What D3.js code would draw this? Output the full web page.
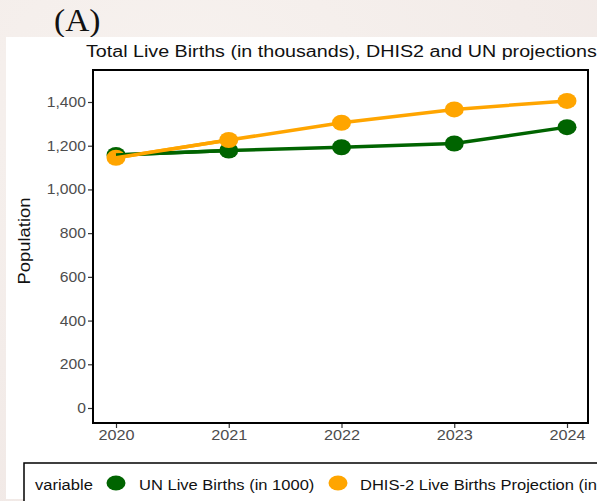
<!DOCTYPE html>
<html>
<head>
<meta charset="utf-8">
<script src="https://cdn.jsdelivr.net/npm/d3@7"></script>
<style>
  body { margin: 0; background: #f4eeeb; overflow: hidden; }
  svg { display: block; }
</style>
</head>
<body>
<div id="chart"></div>
<script>
var years = [2020, 2021, 2022, 2023, 2024];
var unBirths = [1158, 1178, 1193, 1210, 1285];
var dhisBirths = [1145, 1226, 1305, 1366, 1405];
var yTicks = [0, 200, 400, 600, 800, 1000, 1200, 1400];
var seriesNames = ["UN Live Births (in 1000)", "DHIS-2 Live Births Projection (in 1000)"];
var seriesColors = ["#006400", "#ffa500"];

var W = 597, H = 501;
var frame = { left: 93, right: 588, top: 70, bottom: 423 };
var FONT = "Liberation Sans, Arial, sans-serif";

var svg = d3.select("#chart").append("svg")
    .attr("width", W)
    .attr("height", H);

// the source picture is stretched sideways, so widen text to match
function stretch(sel, k) {
    sel.each(function() {
        var len = this.getComputedTextLength();
        d3.select(this).attr("textLength", len * k).attr("lengthAdjust", "spacingAndGlyphs");
    });
}

var defs = svg.append("defs");
var grad = defs.append("radialGradient").attr("id", "bg").attr("cx", "30%").attr("cy", "20%").attr("r", "90%");
grad.append("stop").attr("offset", "0%").attr("stop-color", "#f7f2ef");
grad.append("stop").attr("offset", "100%").attr("stop-color", "#f1e9e6");
svg.append("rect").attr("width", W).attr("height", H).attr("fill", "url(#bg)");

svg.append("text")
    .attr("x", 54).attr("y", 31)
    .attr("font-family", "Liberation Serif, Times New Roman, serif")
    .attr("font-size", 31)
    .attr("fill", "#111")
    .text("(A)")
    .call(stretch, 1.08);

// white panel
svg.append("rect")
    .attr("x", 6).attr("y", 37)
    .attr("width", W - 6).attr("height", 462)
    .attr("fill", "#fff");

var x = d3.scaleLinear().domain([2020, 2024]).range([116, 567]);
var y = d3.scaleLinear().domain([0, 1400]).range([408, 102]);

svg.append("text")
    .attr("x", 86).attr("y", 57)
    .attr("font-family", FONT)
    .attr("font-size", 16)
    .attr("fill", "#111")
    .text("Total Live Births (in thousands), DHIS2 and UN projections")
    .call(stretch, 1.23);

// y axis
var yAxis = svg.append("g")
    .attr("transform", "translate(" + frame.left + ",0)")
    .call(d3.axisLeft(y).tickValues(yTicks).tickSize(5).tickPadding(2).tickFormat(d3.format(",")));
yAxis.select(".domain").remove();
yAxis.selectAll("line").attr("stroke", "#333").attr("stroke-width", 1.2);
yAxis.selectAll("text")
    .attr("fill", "#4d4d4d")
    .attr("font-size", 14)
    .attr("font-family", FONT)
    .call(stretch, 1.12);

// x axis
var xAxis = svg.append("g")
    .attr("transform", "translate(0," + frame.bottom + ")")
    .call(d3.axisBottom(x).tickValues(years).tickSize(5).tickPadding(2).tickFormat(d3.format("d")));
xAxis.select(".domain").remove();
xAxis.selectAll("line").attr("stroke", "#333").attr("stroke-width", 1.2);
xAxis.selectAll("text")
    .attr("fill", "#4d4d4d")
    .attr("font-size", 14)
    .attr("font-family", FONT)
    .call(stretch, 1.16);

svg.append("text")
    .attr("transform", "translate(30,241) rotate(-90)")
    .attr("text-anchor", "middle")
    .attr("font-family", FONT)
    .attr("font-size", 16)
    .attr("fill", "#111")
    .text("Population")
    .call(stretch, 1.15);

// series
var series = [unBirths, dhisBirths];
var line = d3.line()
    .x(function(d, i) { return x(years[i]); })
    .y(function(d) { return y(d); });

series.forEach(function(vals, k) {
    svg.append("path")
        .datum(vals)
        .attr("fill", "none")
        .attr("stroke", seriesColors[k])
        .attr("stroke-width", 3.5)
        .attr("d", line);
    svg.append("g").selectAll("ellipse")
        .data(vals)
        .enter().append("ellipse")
        .attr("cx", function(d, i) { return x(years[i]); })
        .attr("cy", function(d) { return y(d); })
        .attr("rx", 9.5)
        .attr("ry", 8)
        .attr("fill", seriesColors[k]);
});

// first segments sit on top of the overlapping 2020 points
series.forEach(function(vals, k) {
    svg.append("path")
        .datum(vals.slice(0, 2))
        .attr("fill", "none")
        .attr("stroke", seriesColors[k])
        .attr("stroke-width", 3.5)
        .attr("d", line);
});

// frame
svg.append("rect")
    .attr("x", frame.left).attr("y", frame.top)
    .attr("width", frame.right - frame.left)
    .attr("height", frame.bottom - frame.top)
    .attr("fill", "none")
    .attr("stroke", "#000")
    .attr("stroke-width", 2);

// legend
var lg = svg.append("g").attr("font-family", FONT).attr("font-size", 14);
lg.append("rect")
    .attr("x", 24).attr("y", 463)
    .attr("width", 620).attr("height", 60)
    .attr("fill", "#fff")
    .attr("stroke", "#000")
    .attr("stroke-width", 1.5);
lg.append("text").attr("x", 35).attr("y", 490).attr("fill", "#111").text("variable").call(stretch, 1.18);
var legX = [[116, 139], [338, 360]];
seriesNames.forEach(function(name, k) {
    lg.append("ellipse")
        .attr("cx", legX[k][0]).attr("cy", 483)
        .attr("rx", 9.5)
        .attr("ry", 7.5)
        .attr("fill", seriesColors[k]);
    lg.append("text")
        .attr("x", legX[k][1]).attr("y", 490)
        .attr("fill", "#111")
        .text(name)
        .call(stretch, 1.18);
});
</script>
</body>
</html>
